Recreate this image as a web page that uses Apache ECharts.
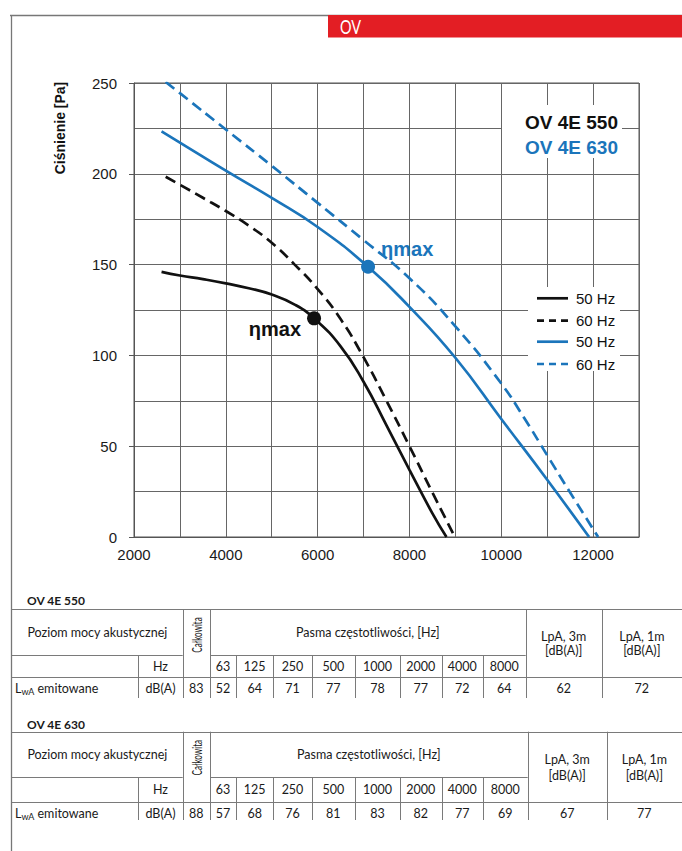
<!DOCTYPE html>
<html>
<head>
<meta charset="utf-8">
<script src="https://cdn.jsdelivr.net/npm/echarts@6/dist/echarts.min.js"></script>
<style>
html,body{margin:0;padding:0;background:#fff;}
#c{width:682px;height:851px;}
</style>
</head>
<body>
<div id="c"></div>
<script>
// ---------- data ----------
const xMin = 2000, xMax = 13000, xGridStep = 1000, xLabelStep = 2000;
const yMin = 0, yMax = 250, yGridStep = 25, yLabelStep = 50;

// OV 4E 550
const ov550_50Hz = [[2600,146],[3000,144],[3500,142],[4000,139.7],[4500,137],[5000,133.5],[5500,128],[5922,120.4],[6500,105],[7000,85.5],[7500,61.5],[8000,37],[8500,13],[8806,0]];
const ov550_60Hz = [[2690,198.4],[3000,194],[3500,186.8],[4000,179.5],[4500,171.5],[5000,162],[5500,150],[6000,136.5],[6500,120],[7000,99],[7500,75],[8000,50],[8500,24.5],[8990,0]];
// OV 4E 630
const ov630_50Hz = [[2600,223.4],[3000,217.2],[4000,201.7],[5000,186.7],[6000,170.7],[7098,148.8],[8000,126.7],[9000,98.7],[10000,65],[11000,31.5],[11913,0]];
const ov630_60Hz = [[2690,250.6],[3000,244.4],[4000,224.4],[5000,204.4],[6000,184],[7000,163.5],[8000,142.5],[9000,116],[10000,84.5],[10500,65.5],[11000,45],[11500,24.5],[12110,0]];

const etaMax550 = [5922,120.4];
const etaMax630 = [7098,148.8];

const legendLabels = ['50 Hz','60 Hz','50 Hz','60 Hz'];
const modelNames = ['OV 4E 550','OV 4E 630'];

// acoustic tables
const freqBands = ['63','125','250','500','1000','2000','4000','8000'];
const lwa550 = [52,64,71,77,78,77,72,64];
const total550 = 83, lpa3m550 = 62, lpa1m550 = 72;
const lwa630 = [57,68,76,81,83,82,77,69];
const total630 = 88, lpa3m630 = 67, lpa1m630 = 77;

// ---------- styles ----------
const BLACK = '#111111';
const BLUE = '#1b75bb';
const GRIDC = '#666666';
const TXT = '#1a1a1a';
const AX_FONT = 'Liberation Sans, Arial, sans-serif';
const TB_FONT = 'Lato, Noto Sans, sans-serif';
const TB_LINE = '#7a7a7a';

const chart = echarts.init(document.getElementById('c'), null, {renderer:'svg'});

function T(x, y, text, o) {
  o = o || {};
  return {
    type:'text', x:x, y:y, z:o.z || 20, rotation:o.rotation || 0,
    scaleX:o.scaleX || 1, scaleY:o.scaleY || 1,
    style:Object.assign({
      text:text, fill:o.fill || TXT,
      fontSize:o.fontSize || 12, fontFamily:o.fontFamily || TB_FONT,
      fontWeight:o.fontWeight || 'normal',
      align:o.align || 'center', textAlign:o.align || 'center',
      verticalAlign:'middle', textVerticalAlign:'middle',
      lineHeight:o.lineHeight
    }, o.extra || {})
  };
}
function L(x1,y1,x2,y2,color,w,dash,z) {
  return {type:'line', z:z || 20, shape:{x1:x1,y1:y1,x2:x2,y2:y2},
    style:{stroke:color || TB_LINE, lineWidth:w || 1, lineDash:dash || null}};
}

function buildTable(g, title, total, values, lpa3, lpa1) {
  const c = g.cols;
  const els = [];
  els.push(T(27, g.titleY, title, {align:'left', fontWeight:'bold', fontSize:12}));
  const r = v => Math.round(v) + 0.5;
  els.push(L(12, r(g.top), 682, r(g.top)));
  els.push(L(12, r(g.mid), c[2], r(g.mid)));
  els.push(L(c[3], r(g.mid), c[11], r(g.mid)));
  els.push(L(12, r(g.row2), 682, r(g.row2)));
  els.push(L(r(c[1]), g.mid, r(c[1]), g.bottom));
  [2,3,11,12].forEach(i => els.push(L(r(c[i]), g.top, r(c[i]), g.bottom)));
  for (let i = 4; i <= 10; i++) els.push(L(r(c[i]), g.mid, r(c[i]), g.bottom));
  els.push(T((c[0]+c[2])/2, (g.top+g.mid)/2, 'Poziom mocy akustycznej', {fontSize:12.5}));
  els.push(T((c[2]+c[3])/2, g.top+26, 'Całkowita', {rotation:Math.PI/2, fontSize:13.5, scaleX:0.6}));
  els.push(T((c[3]+c[11])/2, (g.top+g.mid)/2, 'Pasma częstotliwości, [Hz]', {fontSize:12.5}));
  els.push(T((c[11]+c[12])/2, (g.top+g.row2)/2, 'LpA, 3m\n[dB(A)]', {lineHeight:g.lh, fontSize:12.5}));
  els.push(T((c[12]+c[13])/2, (g.top+g.row2)/2, 'LpA, 1m\n[dB(A)]', {lineHeight:g.lh, fontSize:12.5}));
  const yHz = (g.mid+g.row2)/2;
  els.push(T((c[1]+c[2])/2, yHz, 'Hz', {fontSize:12.5}));
  freqBands.forEach((f,i) => els.push(T((c[3+i]+c[4+i])/2, yHz, f, {fontSize:12.5})));
  const yD = g.row2 + 11;
  els.push({type:'text', x:15, y:yD, z:20, style:{
    text:'{a|L}{b|wA}{a| emitowane}', fill:TXT, fontFamily:TB_FONT,
    align:'left', textAlign:'left', verticalAlign:'middle', textVerticalAlign:'middle',
    rich:{a:{fontSize:12.5, fontFamily:TB_FONT, fill:TXT}, b:{fontSize:9, fontFamily:TB_FONT, fill:TXT, padding:[6,0,0,0]}}
  }});
  els.push(T((c[1]+c[2])/2, yD, 'dB(A)', {fontSize:12.5}));
  els.push(T((c[2]+c[3])/2, yD, String(total), {fontSize:12.5}));
  values.forEach((v,i) => els.push(T((c[3+i]+c[4+i])/2, yD, String(v), {fontSize:12.5})));
  els.push(T((c[11]+c[12])/2, yD, String(lpa3), {fontSize:12.5}));
  els.push(T((c[12]+c[13])/2, yD, String(lpa1), {fontSize:12.5}));
  return els;
}

const table1 = {titleY:600, top:609, mid:655, row2:677, bottom:698, lh:14,
  cols:[12,138.3,182.7,210,236,273.3,311.7,355,400,441.7,482.7,525.7,601.7,682]};
const table2 = {titleY:724, top:731.7, mid:777.3, row2:802.3, bottom:820, lh:16,
  cols:[12,138.3,182.7,210,236,273.3,311.7,355,400,441.7,482.7,527.7,606.7,682]};

const graphics = [];
graphics.push(L(10, 15.5, 682, 15.5, '#777', 1.3));
graphics.push(L(11.5, 15, 11.5, 851, '#777', 1.3));
graphics.push({type:'rect', z:21, shape:{x:328, y:15, width:354, height:22.5}, style:{fill:'#e31e24'}});
graphics.push(T(340, 27, 'OV', {align:'left', fill:'#fff', fontSize:19, scaleX:0.76, z:22}));
graphics.push(T(60, 128, 'Ciśnienie [Pa]', {rotation:Math.PI/2, fontSize:14, fontWeight:'bold', fontFamily:AX_FONT, fill:'#111'}));
graphics.push({type:'rect', z:15, shape:{x:502, y:105, width:120, height:53}, style:{fill:'#fff'}});
graphics.push(T(618, 122, modelNames[0], {align:'right', fontSize:19, fontWeight:'bold', fontFamily:AX_FONT, fill:'#111'}));
graphics.push(T(618, 147, modelNames[1], {align:'right', fontSize:19, fontWeight:'bold', fontFamily:AX_FONT, fill:BLUE}));
graphics.push({type:'rect', z:15, shape:{x:528, y:287, width:92, height:84}, style:{fill:'#fff'}});
const legendStyle = [[BLACK,null,298.3],[BLACK,[7,5],320.7],[BLUE,null,341.7],[BLUE,[7,5],364]];
legendStyle.forEach((s,i) => {
  graphics.push(L(537, s[2], 568, s[2], s[0], 2.7, s[1], 20));
  graphics.push(T(576, s[2], legendLabels[i], {align:'left', fontSize:15, fontFamily:AX_FONT, fill:'#111'}));
});
graphics.push(...buildTable(table1, modelNames[0], total550, lwa550, lpa3m550, lpa1m550));
graphics.push(...buildTable(table2, modelNames[1], total630, lwa630, lpa3m630, lpa1m630));

function curve(name, data, color, dashed) {
  return {name:name, type:'line', data:data, smooth:0.5, symbol:'none', z:5,
    lineStyle:{color:color, width:2.7, type: dashed ? [11,6] : 'solid', cap:'butt', opacity:1}};
}
function etaPoint(pt, color, pos, dist, off) {
  return {type:'scatter', data:[pt], symbolSize:14, z:8, itemStyle:{color:color, opacity:1},
    emphasis:{disabled:true},
    label:{show:true, formatter:'ηmax', position:pos, distance:dist, offset:off, opacity:1,
      fontSize:20, fontWeight:'bold', fontFamily:AX_FONT, color:color}};
}

const option = {
  animation:false,
  grid:{left:134, top:83, right:43, bottom:314, show:true, borderColor:'#555', borderWidth:1, outerBoundsMode:'none'},
  xAxis:{type:'value', min:xMin, max:xMax, interval:xGridStep,
    axisLine:{show:true, lineStyle:{color:'#555', width:1}},
    axisTick:{show:false},
    splitLine:{show:true, lineStyle:{color:GRIDC, width:1}},
    axisLabel:{formatter:v => (v % xLabelStep === 0 && v < xMax) ? String(v) : '',
      fontSize:15, color:TXT, margin:10, fontFamily:AX_FONT, showMaxLabel:false}},
  yAxis:[
    {type:'value', min:yMin, max:yMax, interval:yGridStep,
      axisLine:{show:true, lineStyle:{color:'#555', width:1}},
      axisTick:{show:false}, axisLabel:{show:false},
      splitLine:{show:true, lineStyle:{color:GRIDC, width:1}}},
    {type:'value', min:yMin, max:yMax, interval:yLabelStep, position:'left', offset:0,
      axisLine:{show:false}, splitLine:{show:false},
      axisTick:{show:true, length:5, lineStyle:{color:'#555', width:1}},
      axisLabel:{fontSize:15, color:TXT, margin:17, fontFamily:AX_FONT}}
  ],
  graphic:{elements:graphics},
  series:[
    curve('OV 4E 550 50 Hz', ov550_50Hz, BLACK, false),
    curve('OV 4E 550 60 Hz', ov550_60Hz, BLACK, true),
    curve('OV 4E 630 50 Hz', ov630_50Hz, BLUE, false),
    curve('OV 4E 630 60 Hz', ov630_60Hz, BLUE, true),
    etaPoint(etaMax550, BLACK, 'left', 6, [0, 11]),
    etaPoint(etaMax630, BLUE, 'right', 6, [0, -18])
  ]
};
chart.setOption(option);
</script>
</body>
</html>
